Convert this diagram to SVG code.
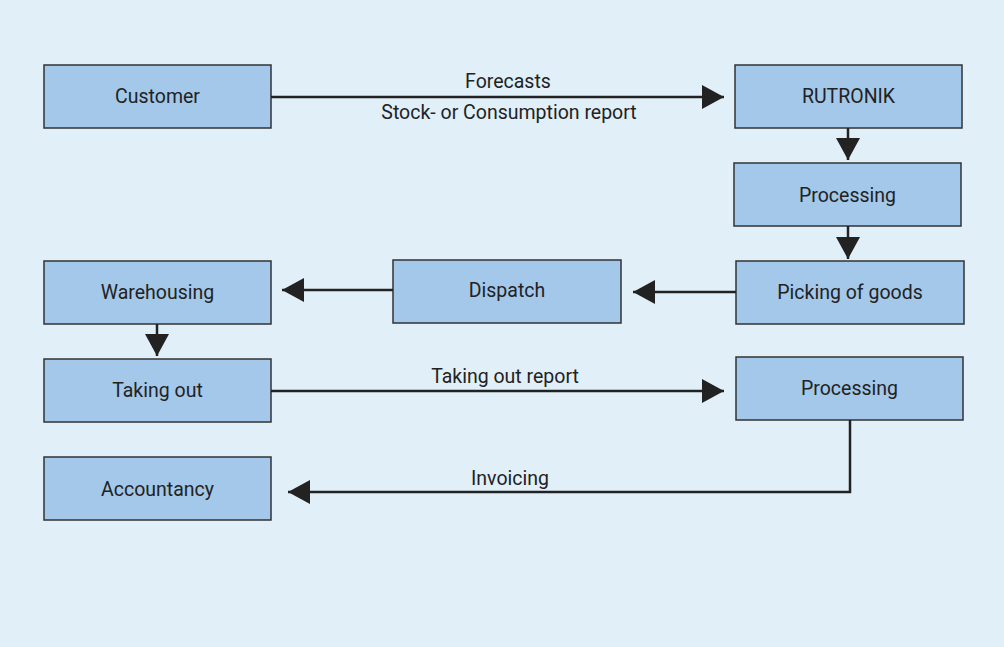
<svg xmlns="http://www.w3.org/2000/svg" width="1004" height="647" viewBox="0 0 1004 647">
<style>
.box{fill:#a3c8ea;stroke:#333;stroke-width:1.5}
.t{font-family:Roboto,"Liberation Sans",sans-serif;font-size:19.5px;fill:#222;text-anchor:middle}
.c{fill:none;stroke:#222;stroke-width:2.5}
.ah{fill:#222}
</style>
<defs>
<marker id="arr" markerUnits="userSpaceOnUse" markerWidth="24" markerHeight="26" refX="22" refY="12" orient="auto" viewBox="0 0 24 26">
<path class="ah" d="M0,0 L22,12 L0,24 z"/>
</marker>
</defs>
<rect width="1004" height="647" fill="#e1eff9"/>
<g id="nodes">
<g id="customer"><rect class="box" x="44" y="65" width="227" height="63"/><text class="t" x="157.5" y="103">Customer</text></g>
<g id="rutronik"><rect class="box" x="735" y="65" width="227" height="63"/><text class="t" x="848.5" y="103">RUTRONIK</text></g>
<g id="processing1"><rect class="box" x="734" y="163" width="227" height="63"/><text class="t" x="847.5" y="202">Processing</text></g>
<g id="picking"><rect class="box" x="736" y="261" width="228" height="63"/><text class="t" x="850" y="299">Picking of goods</text></g>
<g id="dispatch"><rect class="box" x="393" y="260" width="228" height="63"/><text class="t" x="507" y="297">Dispatch</text></g>
<g id="warehousing"><rect class="box" x="44" y="261" width="227" height="63"/><text class="t" x="157.5" y="299">Warehousing</text></g>
<g id="takingout"><rect class="box" x="44" y="359" width="227" height="63"/><text class="t" x="157.5" y="397">Taking out</text></g>
<g id="processing2"><rect class="box" x="736" y="357" width="227" height="63"/><text class="t" x="849.5" y="395">Processing</text></g>
<g id="accountancy"><rect class="box" x="44" y="457" width="227" height="63"/><text class="t" x="157.5" y="496">Accountancy</text></g>
</g>
<g id="connectors">
<path class="c" d="M271,97 H724" marker-end="url(#arr)"/>
<path class="c" d="M848,128 V160" marker-end="url(#arr)"/>
<path class="c" d="M848,226 V259" marker-end="url(#arr)"/>
<path class="c" d="M736,292 H633" marker-end="url(#arr)"/>
<path class="c" d="M393,290 H282" marker-end="url(#arr)"/>
<path class="c" d="M157,324 V356" marker-end="url(#arr)"/>
<path class="c" d="M271,391 H724" marker-end="url(#arr)"/>
<path class="c" d="M850,420 V492 H288" marker-end="url(#arr)"/>
<text class="t" x="508" y="88">Forecasts</text>
<text class="t" x="509" y="119">Stock- or Consumption report</text>
<text class="t" x="505" y="383">Taking out report</text>
<text class="t" x="510" y="485">Invoicing</text>
</g>
</svg>
